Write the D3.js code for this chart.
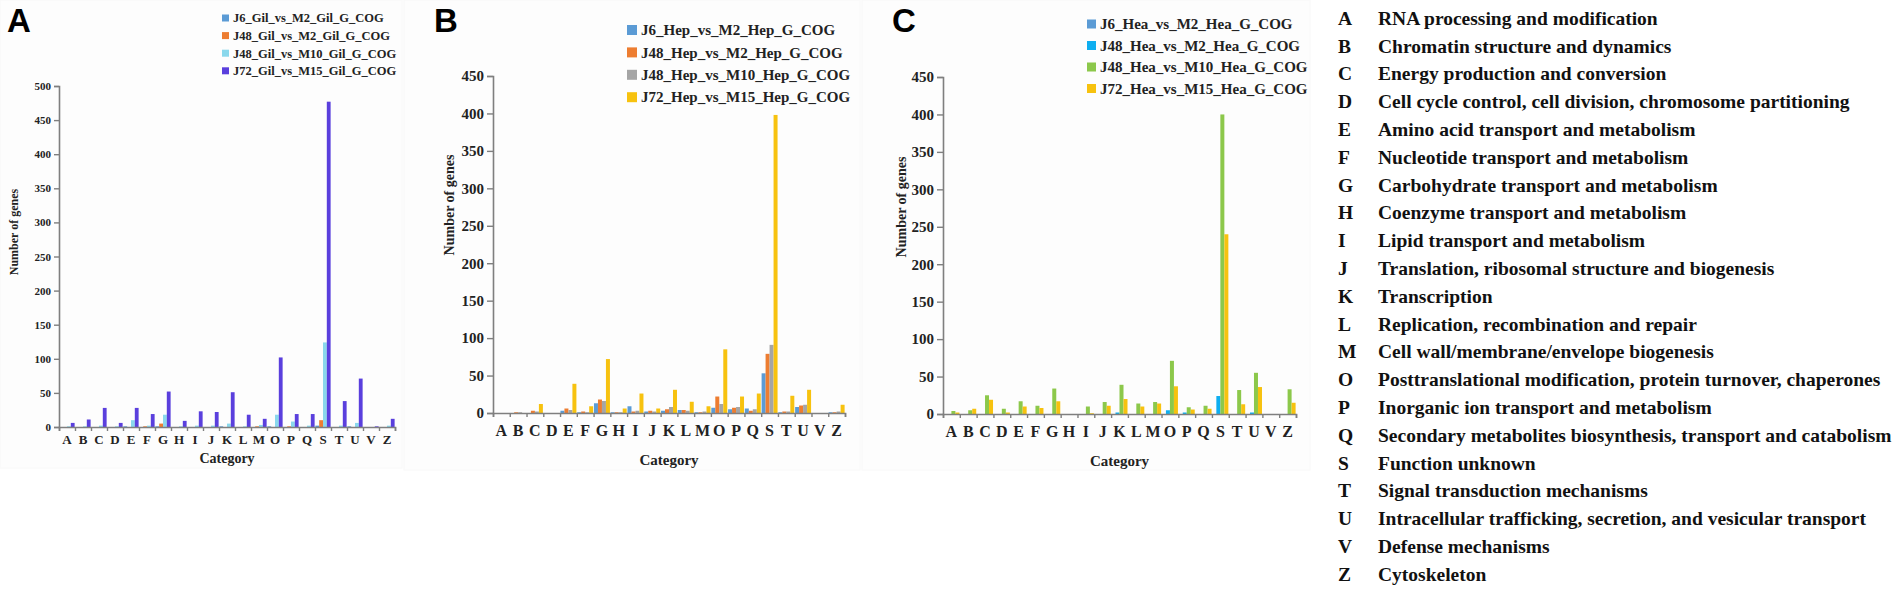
<!DOCTYPE html>
<html>
<head>
<meta charset="utf-8">
<script src="https://cdn.jsdelivr.net/npm/d3@7"></script>
<style>
  body { margin: 0; background: #fff; }
  svg text { font-family: "Liberation Serif", "Times New Roman", serif; font-weight: bold; }
</style>
</head>
<body>
<svg id="chart" width="1902" height="591"></svg>
<script>
// COG categories (x axis)
const categories = ["A", "B", "C", "D", "E", "F", "G", "H", "I", "J", "K", "L", "M", "O", "P", "Q", "S", "T", "U", "V", "Z"];
const yTicksA = [0, 50, 100, 150, 200, 250, 300, 350, 400, 450, 500];
const yTicksBC = [0, 50, 100, 150, 200, 250, 300, 350, 400, 450];

// panel A : Gill
const gilNames = ["J6_Gil_vs_M2_Gil_G_COG", "J48_Gil_vs_M2_Gil_G_COG", "J48_Gil_vs_M10_Gil_G_COG", "J72_Gil_vs_M15_Gil_G_COG"];
const gilJ6 = [0, 0, 0, 0, 1, 0, 1, 0, 0, 0, 1, 0, 0, 1, 0, 0, 2, 0, 1, 0, 0];
const gilJ48M2 = [0, 0, 0, 0, 0, 1, 5, 0, 0, 0, 0, 0, 1, 0, 1, 0, 10, 0, 0, 0, 0];
const gilJ48M10 = [1, 1, 2, 1, 10, 2, 18, 1, 2, 2, 5, 1, 3, 18, 8, 2, 124, 2, 6, 0, 2];
const gilJ72 = [6, 11, 28, 6, 28, 19, 52, 9, 23, 22, 51, 18, 12, 102, 19, 19, 477, 38, 71, 1, 12];

// panel B : Hepatopancreas
const hepNames = ["J6_Hep_vs_M2_Hep_G_COG", "J48_Hep_vs_M2_Hep_G_COG", "J48_Hep_vs_M10_Hep_G_COG", "J72_Hep_vs_M15_Hep_G_COG"];
const hepJ6 = [0, 0, 0, 0, 3, 1, 13, 1, 9, 2, 3, 4, 1, 7, 5, 6, 53, 1, 8, 0, 1];
const hepJ48M2 = [0, 1, 3, 0, 6, 2, 18, 1, 2, 3, 5, 4, 1, 22, 7, 3, 79, 2, 10, 0, 1];
const hepJ48M10 = [0, 1, 2, 0, 4, 1, 16, 1, 3, 2, 8, 3, 2, 12, 8, 5, 91, 2, 11, 0, 2];
const hepJ72 = [0, 0, 12, 0, 39, 9, 72, 6, 26, 6, 31, 15, 9, 85, 22, 26, 398, 23, 31, 0, 11];

// panel C : Heart
const heaNames = ["J6_Hea_vs_M2_Hea_G_COG", "J48_Hea_vs_M2_Hea_G_COG", "J48_Hea_vs_M10_Hea_G_COG", "J72_Hea_vs_M15_Hea_G_COG"];
const heaJ6 = [0, 0, 0, 0, 0, 0, 0, 0, 0, 0, 0, 0, 0, 0, 0, 0, 0, 0, 0, 0, 0];
const heaJ48M2 = [0, 0, 0, 0, 0, 0, 0, 0, 0, 0, 2, 0, 0, 5, 2, 0, 24, 0, 2, 0, 0];
const heaJ48M10 = [4, 5, 25, 7, 17, 11, 34, 0, 10, 16, 39, 14, 16, 71, 9, 11, 400, 32, 55, 0, 33];
const heaJ72 = [2, 7, 19, 2, 10, 8, 17, 0, 1, 11, 20, 10, 14, 37, 6, 7, 240, 13, 36, 0, 15];

// COG function descriptions (right side list)
const cogLetters = ["A", "B", "C", "D", "E", "F", "G", "H", "I", "J", "K", "L", "M", "O", "P", "Q", "S", "T", "U", "V", "Z"];
const cogNames = [
  "RNA processing and modification",
  "Chromatin structure and dynamics",
  "Energy production and conversion",
  "Cell cycle control, cell division, chromosome partitioning",
  "Amino acid transport and metabolism",
  "Nucleotide transport and metabolism",
  "Carbohydrate transport and metabolism",
  "Coenzyme transport and metabolism",
  "Lipid transport and metabolism",
  "Translation, ribosomal structure and biogenesis",
  "Transcription",
  "Replication, recombination and repair",
  "Cell wall/membrane/envelope biogenesis",
  "Posttranslational modification, protein turnover, chaperones",
  "Inorganic ion transport and metabolism",
  "Secondary metabolites biosynthesis, transport and catabolism",
  "Function unknown",
  "Signal transduction mechanisms",
  "Intracellular trafficking, secretion, and vesicular transport",
  "Defense mechanisms",
  "Cytoskeleton"
];

const svg = d3.select("#chart");

function drawPanel(p) {
  const g = svg.append("g");

  // faint panel background
  g.append("rect")
    .attr("x", p.box[0]).attr("y", p.box[1])
    .attr("width", p.box[2]).attr("height", p.box[3])
    .attr("fill", "#fdfdfd").attr("stroke", "#f8f8f8");

  g.append("text")
    .attr("x", p.tag[0]).attr("y", p.tag[1])
    .style("font-family", "'Liberation Sans', Arial, sans-serif")
    .style("font-size", "33px")
    .text(p.letter);

  const x = d3.scaleBand().domain(categories).range([p.left, p.right]);
  const xTick = d3.scaleLinear().domain([0, categories.length]).range([p.left, p.right]);
  const x1 = d3.scaleBand().domain(d3.range(4)).range([0, x.bandwidth()]).paddingOuter(0.1);
  const y = d3.scaleLinear().domain([0, p.yMax]).range([p.bottom, p.top]);

  const rows = categories.map((c, i) => ({ c, v: p.series.map((s) => s[i]) }));

  g.selectAll("g.cat")
    .data(rows)
    .join("g")
    .attr("class", "cat")
    .attr("transform", (d) => `translate(${x(d.c)},0)`)
    .selectAll("rect")
    .data((d) => d.v)
    .join("rect")
    .attr("x", (d, j) => x1(j))
    .attr("width", x1.bandwidth())
    .attr("y", (d) => y(d))
    .attr("height", (d) => p.bottom - y(d))
    .attr("fill", (d, j) => p.colors[j]);

  // y axis
  const yAxis = g.append("g")
    .attr("transform", `translate(${p.left},0)`)
    .call(d3.axisLeft(y).tickValues(p.yTicks).tickSize(p.tickLen).tickPadding(3));
  yAxis.select(".domain").attr("stroke", "#7f7f7f").attr("stroke-width", 1.6);
  yAxis.selectAll(".tick line").attr("stroke", "#7f7f7f").attr("stroke-width", 1.4);
  yAxis.selectAll(".tick text")
    .style("font-family", "'Liberation Serif', serif")
    .style("font-size", p.yFont + "px").attr("fill", "#222");

  // x axis : ticks between categories
  const xAxis = g.append("g")
    .attr("transform", `translate(0,${p.bottom})`)
    .call(d3.axisBottom(xTick).tickValues(d3.range(categories.length + 1)).tickSize(4).tickFormat(""));
  xAxis.select(".domain").attr("stroke", "#7f7f7f").attr("stroke-width", 1.6);
  xAxis.selectAll(".tick line").attr("stroke", "#7f7f7f").attr("stroke-width", 1.4);

  const xLab = g.append("g")
    .attr("transform", `translate(0,${p.bottom})`)
    .call(d3.axisBottom(x).tickSize(0).tickPadding(p.xPad));
  xLab.select(".domain").remove();
  xLab.selectAll(".tick text")
    .style("font-family", "'Liberation Serif', serif")
    .style("font-size", p.xFont + "px").attr("fill", "#222");

  g.append("text")
    .attr("x", (p.left + p.right) / 2).attr("y", p.catY)
    .attr("text-anchor", "middle")
    .style("font-size", p.catFont + "px").attr("fill", "#222")
    .text("Category");

  g.append("text")
    .attr("transform", `translate(${p.ylabX},${p.ylabY}) rotate(-90)`)
    .attr("text-anchor", "middle")
    .style("font-size", p.ylabFont + "px").attr("fill", "#222")
    .text("Number of genes");

  // legend
  const leg = g.selectAll("g.leg")
    .data(p.names)
    .join("g")
    .attr("class", "leg")
    .attr("transform", (d, i) => `translate(${p.legX},${p.legY + i * p.legStep})`);
  leg.append("rect")
    .attr("x", 0).attr("y", -p.legBox / 2)
    .attr("width", p.legBox).attr("height", p.legBox)
    .attr("fill", (d, i) => p.colors[i]);
  leg.append("text")
    .attr("x", p.legBox + 4).attr("y", 0)
    .attr("dy", "0.35em")
    .style("font-size", p.legFont + "px").attr("fill", "#222")
    .text((d) => d);
}

drawPanel({
  letter: "A", tag: [7, 32], box: [0, 0, 402, 468],
  left: 59, right: 395, top: 86, bottom: 427, yMax: 500, yTicks: yTicksA,
  tickLen: 5, yFont: 11, xFont: 13, xPad: 8, catFont: 14, catY: 463,
  ylabX: 18, ylabY: 232, ylabFont: 12,
  names: gilNames, series: [gilJ6, gilJ48M2, gilJ48M10, gilJ72],
  colors: ["#5b9bd5", "#ed7d31", "#8ad8ec", "#5a3fdd"],
  legX: 222, legY: 18, legStep: 17.6, legBox: 7, legFont: 12.5
});

drawPanel({
  letter: "B", tag: [434, 32], box: [404, 0, 456, 470],
  left: 493, right: 845, top: 76, bottom: 413, yMax: 450, yTicks: yTicksBC,
  tickLen: 6, yFont: 15, xFont: 16, xPad: 12, catFont: 15, catY: 465,
  ylabX: 454, ylabY: 205, ylabFont: 14,
  names: hepNames, series: [hepJ6, hepJ48M2, hepJ48M10, hepJ72],
  colors: ["#5b9bd5", "#ed7d31", "#a5a5a5", "#f7c20f"],
  legX: 627, legY: 30, legStep: 22.4, legBox: 10, legFont: 15
});

drawPanel({
  letter: "C", tag: [892, 32], box: [862, 0, 448, 470],
  left: 943, right: 1296, top: 77, bottom: 414, yMax: 450, yTicks: yTicksBC,
  tickLen: 6, yFont: 15, xFont: 16, xPad: 12, catFont: 15, catY: 466,
  ylabX: 906, ylabY: 207, ylabFont: 14,
  names: heaNames, series: [heaJ6, heaJ48M2, heaJ48M10, heaJ72],
  colors: ["#5b9bd5", "#0eaef0", "#8cc84b", "#f7c20f"],
  legX: 1087, legY: 24, legStep: 21.5, legBox: 9, legFont: 15
});

// COG category descriptions
const list = svg.append("g")
  .selectAll("g")
  .data(cogLetters)
  .join("g")
  .attr("transform", (d, i) => `translate(1338,${18 + i * 27.8})`);
list.append("text")
  .attr("dy", "0.35em")
  .style("font-size", "19.5px").attr("fill", "#111")
  .text((d) => d);
list.append("text")
  .attr("x", 40).attr("dy", "0.35em")
  .style("font-size", "19.5px").attr("fill", "#111")
  .text((d, i) => cogNames[i]);
</script>
</body>
</html>
